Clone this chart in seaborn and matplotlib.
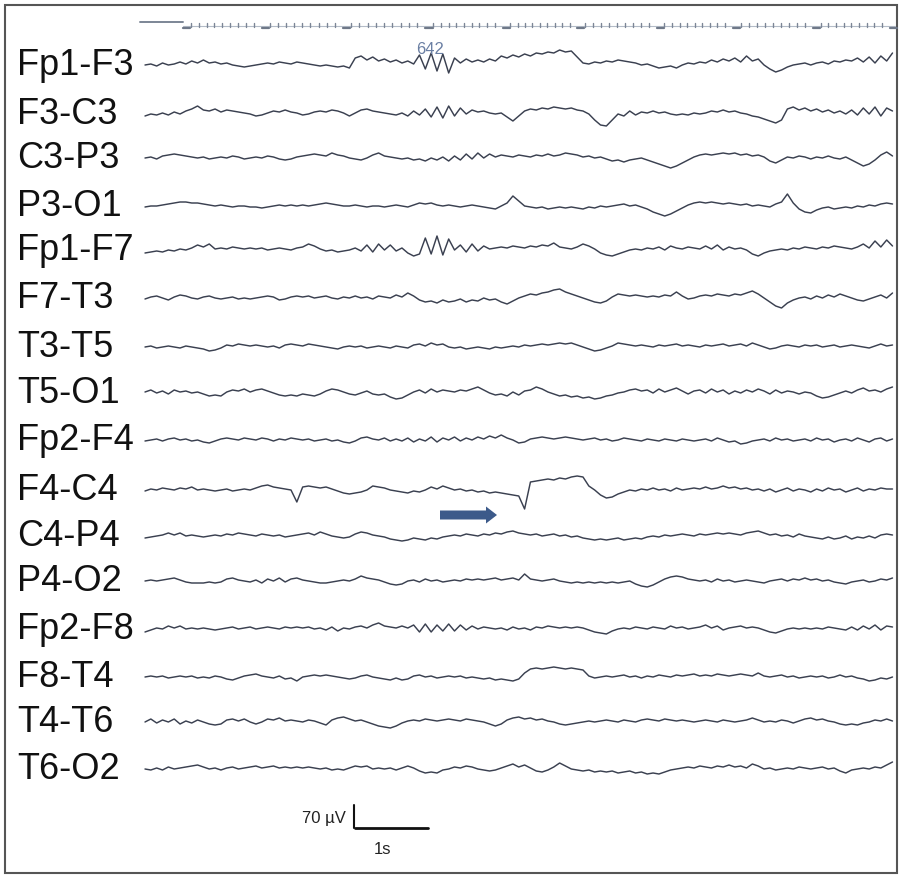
import numpy as np
import pandas as pd
import matplotlib
matplotlib.use("Agg")
import matplotlib.pyplot as plt
import seaborn as sns
from matplotlib.patches import Polygon, Rectangle

# ---------------- data ----------------
channels = ["Fp1-F3", "F3-C3", "C3-P3", "P3-O1", "Fp1-F7", "F7-T3", "T3-T5", "T5-O1",
            "Fp2-F4", "F4-C4", "C4-P4", "P4-O2", "Fp2-F8", "F8-T4", "T4-T6", "T6-O2"]

DT = 0.08          # seconds between samples
UNIT_UV = 3.04     # one amplitude unit below = 3.04 uV (70 uV calibration bar)

# deflections (units, positive = upward) every 0.08 s
fp1_f3 = [0,1,-1,2,0,1,3,1,4,2, 5,2,3,1,2,0,-1,-2,-1, 0,1,2,1,3,2,1,3, 2,1,0,-1,0,-1,-2,-1,-3,
          7,9,5,8,4,6,3,5, 2,4,1,10,-4,12,-6,11,-8, 7,2,6,3,5,3,6,4, 9,7,10,8,11,9,12,11,13,
          12,15,13,14,8,2,1,3,2, 4,3,5,4,3,2,0,1, -1,-3,-2,-1,-3,0,2,1,3, 2,5,3,6,4,7,3,9,4,6,
          0,-4,-7,-5,-2,0,1,2,0, 2,3,1,4,3,5,4,7,3,8, 2,9,4,12]
f3_c3 = [-2,0,-1,1,-1,2,0,3,5,8, 4,3,5,2,4,3,2,1,0, -2,-1,1,3,2,4,2,1, -1,0,2,3,2,4,3,1,-2,
         1,4,5,3,2,1,0,-1, 1,-2,3,-1,5,-3,7,-4,8, -2,6,0,4,2,3,1,0, 1,-3,-7,-2,3,5,4,6,5,
         7,6,5,6,4,3,0,-6,-11, -12,-6,0,-2,3,-1,2,1, 3,1,2,0,-1,0,-1,1,0, 1,3,2,4,2,3,1,0,-2,-3,
         -5,-7,-9,-6,5,7,4,6,3, 5,2,4,1,3,0,4,-1,6,0, 7,-2,6,3]
c3_p3 = [0,1,-1,2,3,4,3,2,1,0, 1,-1,0,1,0,2,1,-1,0, 1,0,2,1,-1,-2,-1,1, 2,3,4,3,2,5,3,2,0,
         -1,-2,0,3,5,2,1,0, -1,0,-2,-1,-3,0,-2,1,-3, 2,-2,4,-1,5,0,4,1, 3,2,1,3,2,1,3,2,4,
         2,3,5,4,3,1,2,0,1, -1,-3,-2,-4,-2,-1,0,-2, -4,-6,-8,-10,-8,-5,-2,1,3, 4,3,4,5,4,5,3,4,2,3,
         1,-3,-5,-2,1,0,2,1,-1, 1,0,2,0,-1,1,-2,-5,-8,-6, -2,3,6,2]
p3_o1 = [-1,0,0,1,2,3,4,4,3,3, 2,1,0,1,0,-1,0,0,-1, -1,-2,-1,0,1,0,1,0, 1,0,1,2,3,2,1,0,0,
         1,0,-1,0,0,-1,0,1, 0,-1,1,3,2,3,1,0,1, 0,-1,0,1,0,-1,-2,-3, 0,3,10,5,0,-1,-2,-1,-3,
         -2,-1,-2,-1,-2,-3,-1,-2,0, -1,0,1,2,0,1,-1,-3, -6,-8,-10,-8,-5,-2,1,3,4, 3,4,3,2,3,2,1,2,0,1,
         0,-1,2,4,12,3,-3,-6,-7, -4,-2,-1,-3,-2,-1,-2,0,-1,1, 0,2,3,2]
fp1_f7 = [-3,-2,-1,-2,0,-1,1,0,2,5, 3,6,1,2,1,3,2,1,2, 1,2,0,1,2,1,0,2, 3,6,4,1,-1,0,-2,-1,0,
          2,-1,5,-2,6,0,5,-1, 2,-3,-6,-4,12,-4,14,-5,11, 0,5,-2,6,-1,4,1,2, 3,2,4,3,2,4,3,5,4,
          7,3,2,1,3,6,4,1,-3, -5,-6,-4,-2,0,1,0,2, 1,3,0,4,2,1,3,2,1, 4,1,5,0,3,1,2,0,-4,-6,
          -3,-1,0,1,0,2,1,3,2, 1,3,2,4,3,2,1,3,6,2, 9,3,10,4]
f7_t3 = [-1,1,2,0,-2,1,3,2,0,-1, 1,2,0,-1,0,1,-1,0,-1, 0,1,2,1,-2,-1,1,2, 1,2,0,1,2,0,-1,1,0,
         2,0,1,-1,2,1,0,3, 1,5,2,-2,-4,-3,-5,-2,-4, -3,-1,-4,-2,-3,0,-2,-1, -4,-6,-3,0,2,4,3,5,6,
         8,9,6,4,2,0,-2,-4,-5, -3,1,4,3,2,3,2,1, 2,1,3,2,6,2,-1,0,2, 3,2,4,3,2,4,3,5,7,4,
         0,-4,-8,-10,-5,-2,0,1,-1, 2,0,3,1,4,2,0,-2,-3,-1, 1,3,0,5]
t3_t5 = [0,1,-1,0,1,0,-1,1,0,-1, -2,-4,-3,-1,2,1,3,2,1, 2,1,0,1,-1,2,3,2, 1,3,2,1,0,-1,-2,0,1,
         0,1,-1,0,1,0,-1,1, 0,-1,2,3,1,4,2,3,0, -1,0,-2,-1,0,-1,-2,0, -1,0,1,0,2,1,2,3,2,
         3,4,3,4,2,0,-2,-4,-3, -1,1,4,3,2,1,2,1, 0,2,1,2,3,1,2,1,0, 2,1,2,3,1,2,3,1,4,2,
         0,-2,-1,1,2,1,0,2,1, 2,0,1,2,0,1,2,1,0,-1, 1,3,1,2]
t5_o1 = [1,3,0,2,-1,3,1,2,0,1, -1,-3,-2,-3,1,3,2,4,1, 3,4,2,0,-2,-3,-2,-3, -1,-2,-3,-1,2,4,3,1,-1,
         -2,0,2,-1,-2,-1,-4,-6, -5,-2,1,3,0,4,1,3,2, 1,3,2,4,6,3,0,-2, -1,-3,1,-2,2,3,6,4,1,
         -1,-3,-2,-4,-3,-5,-4,-6,-5, -3,-2,0,1,3,4,2,3, 0,4,1,3,5,2,-1,2,3, 0,4,1,3,-1,2,0,3,1,4,
         2,-1,3,0,2,1,-1,1,0, -3,-5,-4,-2,0,2,0,3,5,2, 3,1,4,6]
fp2_f4 = [-1,0,1,-1,1,2,0,1,-1,0, -2,-3,-1,1,2,1,0,2,1, 0,2,1,-1,1,0,2,1, 0,1,-1,0,1,-1,0,-2,-3,
          -1,2,3,1,0,2,-1,1, -1,2,-2,1,-1,3,-2,2,0, 3,-1,2,0,3,1,4,2, 5,2,0,-3,-2,1,2,3,2,
          1,2,3,2,1,0,1,2,0, 1,-1,0,2,1,0,-1,1, 0,-1,1,0,-1,1,0,-1,0, 1,-1,2,0,-2,-1,-4,-3,-1,0,
          1,-1,2,0,1,-1,0,1,-1, 2,0,1,-2,0,1,-1,2,0,-2, 1,2,-1,1]
f4_c4 = [-1,1,0,2,1,0,2,1,3,0, 1,0,-1,0,1,-1,0,1,0, 2,4,5,3,2,1,0,-12, 3,4,3,2,3,1,-1,-3,-4,
         -3,-2,0,4,3,2,0,-1, -2,-3,-1,-2,0,3,1,4,2, 0,1,-1,0,-2,-1,-3,-2, -3,-4,-5,-6,-19,8,9,10,11,
         10,12,11,13,14,13,4,0,-5, -8,-7,-4,-2,0,-1,1,0, 2,0,1,-1,2,0,1,2,1, 3,1,2,4,2,3,1,2,0,1,
         -1,1,-2,0,2,-1,1,0,-2, 1,-1,2,0,1,-2,0,2,-1,1, 0,2,1,1]
c4_p4 = [-2,-1,0,1,3,1,3,0,1,0, -1,0,1,0,2,1,3,2,1, 0,2,1,0,1,-1,0,1, 2,3,1,4,2,0,-1,-2,-1,
         2,4,3,1,0,-1,-3,-4, -5,-4,-2,-3,-4,-2,-3,-1,0, 1,0,2,1,0,2,1,3, 2,4,5,3,2,1,2,0,1,
         2,0,1,-1,0,-2,-3,-4,-3, -4,-3,-2,-4,-3,-2,-3,-1, 0,-1,1,0,1,2,1,0,2, 1,2,3,2,3,2,1,3,4,5,
         3,1,2,0,1,-1,2,0,-1, -2,-3,-1,-3,-2,0,-3,-1,-2,0, -2,1,2,1]
p4_o2 = [0,1,0,1,2,3,1,-1,-2,-2, -2,-1,-2,-1,2,3,1,0,-1, 1,-2,2,0,3,-1,2,3, 1,0,-1,-2,-2,-1,0,1,0,
         2,5,3,2,1,-1,-3,-4, -3,0,1,-1,2,0,1,-1,0, 1,0,2,1,2,1,2,3, 1,2,3,1,7,2,1,0,1,
         2,0,-1,-2,-1,-2,-1,-2,-1, -2,-1,-2,-1,0,-3,-5,-6, -4,-1,2,4,5,4,2,1,0, 1,-1,2,0,1,-1,0,1,0,-1,
         -2,0,1,2,0,2,1,3,1, 2,0,1,-1,-2,-3,-1,0,1,-1, 0,2,1,3]
fp2_f8 = [-3,-1,1,0,3,1,3,0,1,0, 1,0,-1,0,1,2,0,1,2, 0,1,2,1,0,2,1,2, 1,2,0,1,-1,2,-2,1,0,
          2,3,1,4,6,3,2,1, 3,1,4,-3,5,-3,4,-2,5, -2,4,-1,3,0,2,1,0, 1,-1,2,0,1,-1,2,1,3,
          2,1,2,1,2,1,-1,-3,-4, -5,-2,0,1,0,2,1,0, 2,1,0,3,1,2,0,1,2, 4,1,3,-1,1,2,3,1,2,1,
          -1,-3,-4,-2,0,1,0,1,0, 1,0,2,1,0,-1,2,-1,3,0, 4,-1,3,2]
f8_t4 = [0,1,0,1,-1,0,1,0,1,-1, 0,-1,1,0,-2,-3,-1,1,2, 3,1,0,-1,1,-2,-1,-4, 0,1,2,1,2,1,0,-1,-2,
         -1,1,2,0,-1,-2,-3,-1, -3,-2,1,2,0,1,-1,0,1, 0,1,-1,0,-1,-2,-1,-3, -2,-3,-4,-2,4,8,9,8,9,
         10,9,8,9,8,7,1,-1,0, 1,0,1,2,0,1,-1,1, 0,2,1,0,2,1,2,3,1, 2,1,3,2,1,2,3,2,1,4,
         1,0,1,2,0,1,-1,0,1, 0,1,-1,0,2,0,1,-1,-2,-4, -3,-1,-2,0]
t4_t6 = [0,3,-1,2,0,3,-2,1,-1,2, 0,-2,-3,-2,2,3,1,3,0, -2,0,3,2,4,1,2,1, 0,2,1,-1,-3,2,4,5,3,
         1,2,0,-2,-4,-5,-6,-4, -1,1,2,1,3,2,1,2,3, 2,1,3,2,1,0,-2,-4, -2,2,4,5,3,4,2,3,1,
         0,-2,-3,-2,-1,0,1,0,1, 2,1,0,2,1,0,2,3, 2,1,3,2,1,2,1,0,1, 2,1,0,2,1,0,1,2,4,2,
         0,1,0,2,1,-1,1,3,4, 2,3,1,0,-2,-3,-2,-3,-1,0, 2,1,3,1]
t6_o2 = [0,-1,1,-1,2,0,1,2,3,4, 2,0,1,-1,1,2,0,1,2, 3,1,2,3,1,2,1,2, 1,2,1,0,1,-1,0,-1,1,
         3,2,3,0,1,0,1,-1, 1,3,1,-2,-4,-3,-4,-1,0, 2,1,3,2,0,-1,-2,-1, 1,3,5,2,4,1,-2,-3,-1,
         2,6,3,0,-1,-2,-1,-3,-2, -3,-2,-4,-3,-2,-4,-3,-5, -4,-5,-3,-1,0,1,2,1,3, 2,1,3,2,4,2,3,1,5,3,
         0,1,-1,0,1,0,2,1,0, 1,2,0,1,-2,-4,-1,0,1,0, 2,1,4,7]

traces = [fp1_f3, f3_c3, c3_p3, p3_o1, fp1_f7, f7_t3, t3_t5, t5_o1,
          fp2_f4, f4_c4, c4_p4, p4_o2, fp2_f8, f8_t4, t4_t6, t6_o2]

cal_uv = 70        # calibration bar
cal_s = 1.0

# ---------------- layout ----------------
W, H = 901, 877
X0 = 145.0          # pixel where t = 0
PX_PER_S = 73.0
baselines = [65, 114, 158, 206, 250, 298, 347, 393, 440, 490, 536, 581, 629, 677, 722, 769]


def t_of(px):
    return (px - X0) / PX_PER_S


rows = []
for name, base, vals in zip(channels, baselines, traces):
    for i, v in enumerate(vals):
        rows.append({"channel": name, "t": i * DT, "y": base - v})
df = pd.DataFrame(rows)

sns.set_theme(style="white")
plt.rcParams["font.family"] = ["Liberation Sans", "DejaVu Sans"]

fig = plt.figure(figsize=(W / 100, H / 100), dpi=100)
ax = fig.add_axes([0, 0, 1, 1])
ax.set_xlim(t_of(0), t_of(W))
ax.set_ylim(H, 0)
ax.axis("off")

sns.lineplot(data=df, x="t", y="y", units="channel", estimator=None, sort=False,
             color="#3a4050", linewidth=1.05, ax=ax, legend=False)

# channel labels
for name, base in zip(channels, baselines):
    ax.text(t_of(17), base + 10, name, fontsize=26, color="#111111",
            va="baseline", ha="left")

# timing marker at top
sec_marks = [0.52, 1.60, 2.71, 3.84, 4.90, 5.92, 7.01, 8.05, 9.15, 10.20]
ax.plot([t_of(140), t_of(183)], [21.5, 21.5], color="#7c8696", lw=1.4)
ax.plot([t_of(183), t_of(895)], [26, 26], color="#b4bcc8", lw=0.8)
for a, b in zip(sec_marks[:-1], sec_marks[1:]):
    ax.plot([a, a + 0.1], [27.5, 27.5], color="#6e7888", lw=1.6)
    for k in range(1, 10):
        tt = a + (b - a) * k / 10
        ax.plot([tt, tt], [22.5, 26.5], color="#7c8696", lw=1.0)
ax.plot([sec_marks[-1], sec_marks[-1] + 0.1], [27.5, 27.5], color="#6e7888", lw=1.6)
for k in range(1, 6):
    tt = sec_marks[-1] + 0.107 * k
    if tt < t_of(897):
        ax.plot([tt, tt], [22.5, 26.5], color="#7c8696", lw=1.0)

ax.text(t_of(430), 49, "642", fontsize=12, color="#6a7fa3", ha="center", va="center")

# arrow
arrow = Polygon([(t_of(440), 510.5), (t_of(486), 510.5), (t_of(486), 506.5), (t_of(497), 515),
                 (t_of(486), 523.5), (t_of(486), 519.5), (t_of(440), 519.5)],
                closed=True, facecolor="#3c5a8a", edgecolor="none")
ax.add_patch(arrow)

# calibration bars
cal_t0 = t_of(355)
cal_h = cal_uv / UNIT_UV
ax.plot([cal_t0, cal_t0 + cal_s], [828, 828], color="#111111", lw=2.0)
ax.plot([cal_t0 - 0.02, cal_t0 - 0.02], [828, 828 - cal_h], color="#111111", lw=1.5)
ax.text(t_of(346), 819, f"{cal_uv} µV", fontsize=12, color="#222222", ha="right", va="center")
ax.text(cal_t0 + cal_s * 0.38, 849, f"{cal_s:.0f}s", fontsize=12, color="#222222",
        ha="center", va="center")

# frame
ax.add_patch(Rectangle((t_of(4.5), 4.5), t_of(897) - t_of(4.5), 868, fill=False,
                       edgecolor="#555555", lw=1.5))

fig.savefig("out.png", dpi=100)
